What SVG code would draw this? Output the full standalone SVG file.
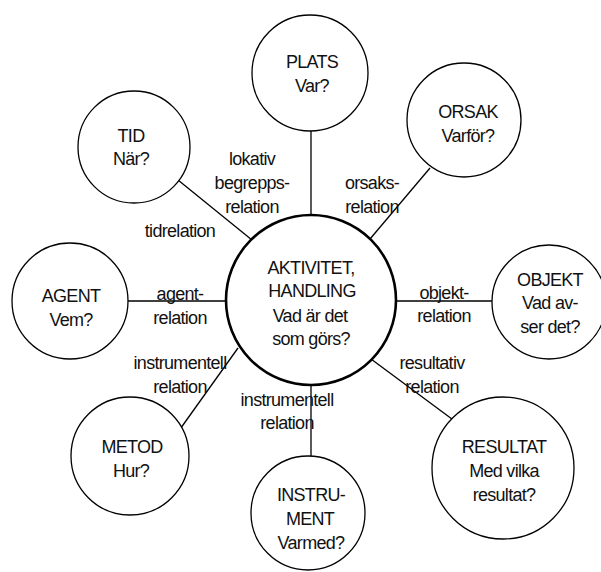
<svg xmlns="http://www.w3.org/2000/svg" width="601" height="572" viewBox="0 0 601 572">
  <style>
    .node { fill: #ffffff; stroke: #000000; stroke-width: 1.3; }
    .core { fill: #ffffff; stroke: #000000; stroke-width: 2.6; }
    .link { stroke: #000000; stroke-width: 1.3; fill: none; }
    text { font-family: "Liberation Sans", Arial, sans-serif; font-size: 18px; letter-spacing: -0.7px; fill: #111111; text-anchor: middle; }
  </style>
  <rect width="601" height="572" fill="#ffffff"/>

  <!-- connectors from the central activity to each facet -->
  <g id="connectors">
    <line class="link" x1="311" y1="131" x2="311" y2="215"/>
    <line class="link" x1="430" y1="168" x2="370" y2="239"/>
    <line class="link" x1="178" y1="180" x2="252" y2="240"/>
    <line class="link" x1="128" y1="301" x2="226" y2="301"/>
    <line class="link" x1="396" y1="301" x2="492" y2="301"/>
    <line class="link" x1="178" y1="432" x2="238" y2="348"/>
    <line class="link" x1="311" y1="386" x2="311" y2="456"/>
    <line class="link" x1="371" y1="359" x2="456" y2="422"/>
  </g>

  <!-- relation labels -->
  <g id="labels">
    <text x="252" y="165">lokativ</text>
    <text x="252" y="189">begrepps-</text>
    <text x="252" y="213">relation</text>
    <text x="372" y="189">orsaks-</text>
    <text x="372" y="213">relation</text>
    <text x="180" y="237">tidrelation</text>
    <text x="180" y="300">agent-</text>
    <text x="180" y="324">relation</text>
    <text x="444" y="299">objekt-</text>
    <text x="444" y="322">relation</text>
    <text x="180" y="369">instrumentell</text>
    <text x="180" y="393">relation</text>
    <text x="432" y="369">resultativ</text>
    <text x="432" y="393">relation</text>
    <text x="287" y="406">instrumentell</text>
    <text x="287" y="429">relation</text>
  </g>

  <g id="activity">
    <circle class="core" cx="311" cy="300" r="85"/>
    <text x="311" y="274">AKTIVITET,</text>
    <text x="312" y="297">HANDLING</text>
    <text x="310" y="322">Vad är det</text>
    <text x="311" y="345">som görs?</text>
  </g>

  <g id="plats">
    <circle class="node" cx="310" cy="73" r="58"/>
    <text x="312" y="68">PLATS</text>
    <text x="312" y="92">Var?</text>
  </g>

  <g id="orsak">
    <circle class="node" cx="464" cy="120" r="57"/>
    <text x="468" y="118">ORSAK</text>
    <text x="468" y="142">Varför?</text>
  </g>

  <g id="tid">
    <circle class="node" cx="134" cy="147" r="56"/>
    <text x="131" y="142">TID</text>
    <text x="131" y="165">När?</text>
  </g>

  <g id="agent">
    <circle class="node" cx="70" cy="301" r="58"/>
    <text x="71" y="302">AGENT</text>
    <text x="71" y="326">Vem?</text>
  </g>

  <g id="objekt">
    <circle class="node" cx="549" cy="302" r="57"/>
    <text x="550" y="286">OBJEKT</text>
    <text x="550" y="309">Vad av-</text>
    <text x="550" y="333">ser det?</text>
  </g>

  <g id="metod">
    <circle class="node" cx="130" cy="456" r="59"/>
    <text x="132" y="453">METOD</text>
    <text x="131" y="477">Hur?</text>
  </g>

  <g id="instrument">
    <circle class="node" cx="308" cy="513" r="57"/>
    <text x="311" y="501">INSTRU-</text>
    <text x="310" y="525">MENT</text>
    <text x="311" y="549">Varmed?</text>
  </g>

  <g id="resultat">
    <circle class="node" cx="503" cy="468" r="71"/>
    <text x="504" y="453">RESULTAT</text>
    <text x="504" y="477">Med vilka</text>
    <text x="504" y="501">resultat?</text>
  </g>
</svg>
